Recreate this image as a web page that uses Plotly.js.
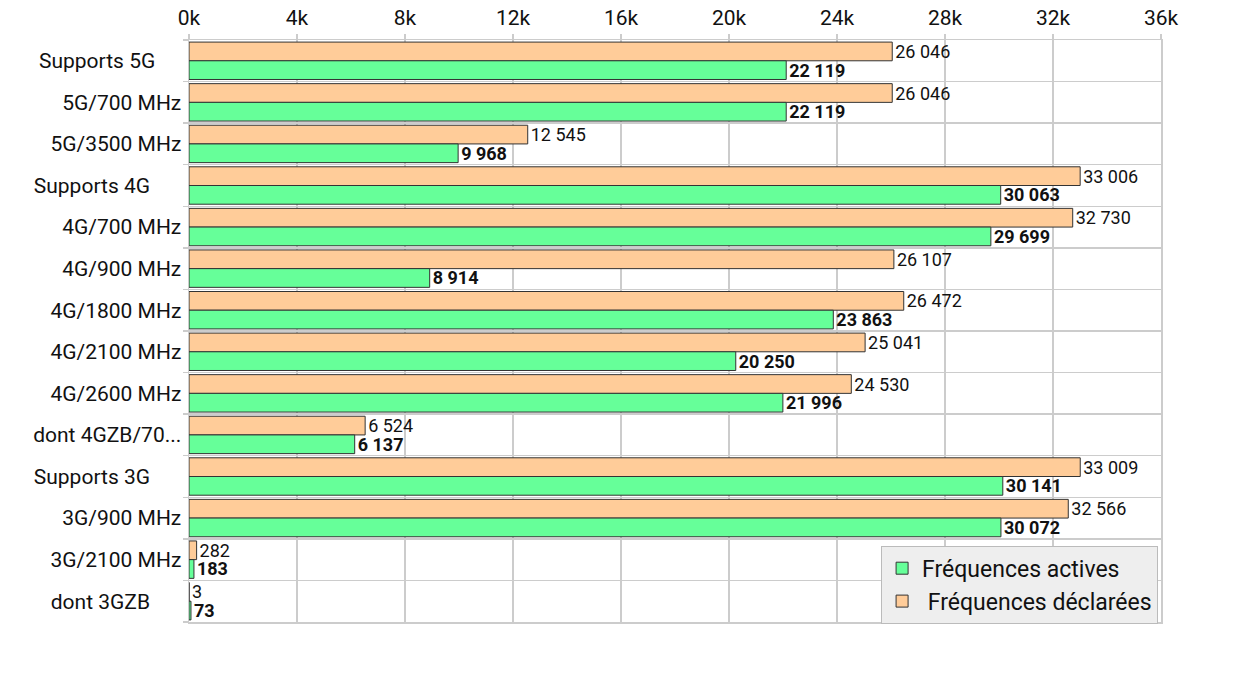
<!DOCTYPE html>
<html>
<head>
<meta charset="utf-8">
<script src="https://cdn.plot.ly/plotly-3.0.1.min.js"></script>
<style>
  html, body { margin: 0; padding: 0; background: #fff; }
  #chart { width: 1242px; height: 678px; }
</style>
</head>
<body>
<div id="chart"></div>
<script>
// categories, top to bottom
const categories = [
  "Supports 5G", "5G/700 MHz", "5G/3500 MHz",
  "Supports 4G", "4G/700 MHz", "4G/900 MHz", "4G/1800 MHz", "4G/2100 MHz", "4G/2600 MHz", "dont 4GZB/70...",
  "Supports 3G", "3G/900 MHz", "3G/2100 MHz", "dont 3GZB"
];
// the source pads a few labels on the right
const tickLabels = [
  "Supports 5G\u00a0\u00a0\u00a0\u00a0\u00a0", "5G/700 MHz", "5G/3500 MHz",
  "Supports 4G\u00a0\u00a0\u00a0\u00a0\u00a0\u00a0", "4G/700 MHz", "4G/900 MHz", "4G/1800 MHz", "4G/2100 MHz", "4G/2600 MHz", "dont 4GZB/70...",
  "Supports 3G\u00a0\u00a0\u00a0\u00a0\u00a0\u00a0", "3G/900 MHz", "3G/2100 MHz", "dont 3GZB\u00a0\u00a0\u00a0\u00a0\u00a0\u00a0"
];
const declarees = [26046, 26046, 12545, 33006, 32730, 26107, 26472, 25041, 24530, 6524, 33009, 32566, 282, 3];
const actives   = [22119, 22119, 9968, 30063, 29699, 8914, 23863, 20250, 21996, 6137, 30141, 30072, 183, 73];
const xTickVals = [0, 4000, 8000, 12000, 16000, 20000, 24000, 28000, 32000, 36000];
const xTickText = ["0k", "4k", "8k", "12k", "16k", "20k", "24k", "28k", "32k", "36k"];

function fmtSpace(v) {
  return String(v).replace(/\B(?=(\d{3})+(?!\d))/g, " ");
}

const traces = [
  {
    type: "bar", orientation: "h", name: "\u00a0Fréquences déclarées",
    y: categories, x: declarees,
    text: declarees.map(fmtSpace), textposition: "outside", cliponaxis: false,
    textfont: { family: "Roboto", size: 18, color: "#111" },
    marker: { color: "#ffcc99", line: { color: "#333", width: 1 } },
    hoverinfo: "x"
  },
  {
    type: "bar", orientation: "h", name: "Fréquences actives",
    y: categories, x: actives,
    text: actives.map((v) => `<b>${fmtSpace(v)}</b>`), textposition: "outside", cliponaxis: false,
    textfont: { family: "Roboto", size: 18, color: "#111" },
    marker: { color: "#66ff99", line: { color: "#333", width: 1 } },
    hoverinfo: "x"
  }
];

const layout = {
  width: 1242, height: 678,
  paper_bgcolor: "#fff", plot_bgcolor: "#fff",
  font: { family: "Roboto", color: "#111" },
  margin: { l: 189, r: 81, t: 40, b: 56 },
  barmode: "group", bargap: 0.1, bargroupgap: 0,
  xaxis: {
    side: "top", range: [0, 36000], tickvals: xTickVals, ticktext: xTickText,
    showgrid: true, gridcolor: "#cccccc", gridwidth: 1.5,
    ticks: "outside", ticklen: 5, tickcolor: "#cccccc", tickwidth: 1.5,
    showline: true, linecolor: "#cccccc", linewidth: 1.5, mirror: true,
    zeroline: false, tickfont: { size: 21, family: "Roboto", color: "#111" }
  },
  yaxis: {
    type: "category", autorange: "reversed",
    tickvals: categories, ticktext: tickLabels, tickson: "boundaries",
    showgrid: true, gridcolor: "#cccccc", gridwidth: 1.5,
    ticks: "outside", ticklen: 5, tickcolor: "#cccccc", tickwidth: 1.5,
    ticklabelstandoff: 2,
    showline: true, linecolor: "#cccccc", linewidth: 1.5, mirror: true,
    tickfont: { size: 21, family: "Roboto", color: "#111" }
  },
  showlegend: true,
  legend: {
    x: 0.997, xanchor: "right", y: -0.003, yanchor: "bottom",
    traceorder: "reversed",
    bgcolor: "#eeeeee", bordercolor: "#bbbbbb", borderwidth: 1,
    font: { size: 23, family: "Roboto", color: "#111" },
    itemwidth: 30, tracegroupgap: 0
  }
};

traces.forEach((t) => { t.constraintext = "none"; });

Plotly.newPlot("chart", traces, layout, { displayModeBar: false, staticPlot: true });
</script>
</body>
</html>
